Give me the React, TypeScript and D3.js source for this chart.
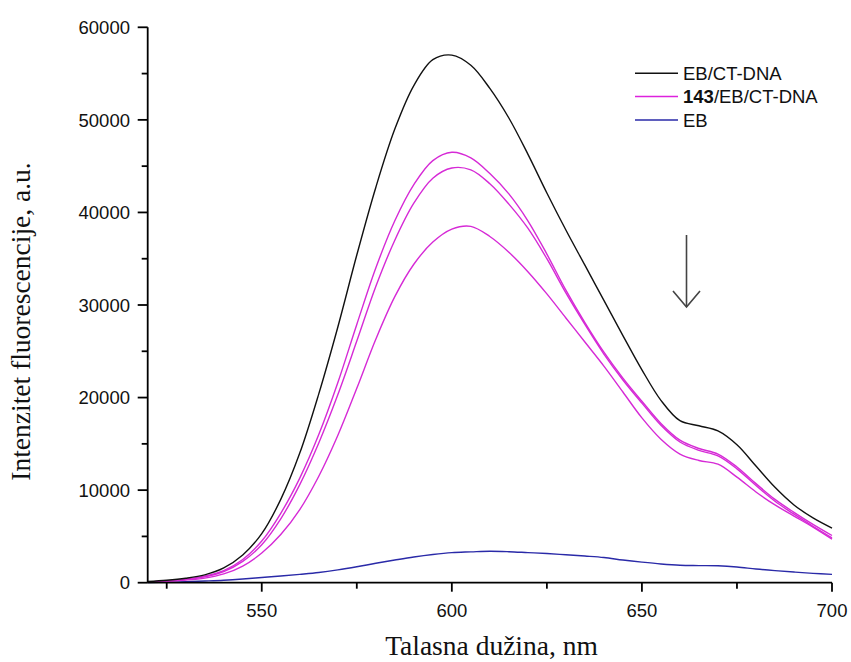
import React from 'react';
import * as d3 from 'd3';

const wavelengths = [520, 525, 530, 535, 540, 545, 550, 555, 560, 565, 570, 575, 580, 585, 590, 595, 600, 605, 610, 615, 620, 625, 630, 635, 640, 645, 650, 655, 660, 665, 670, 675, 680, 685, 690, 695, 700];

const ebDna = [130, 260, 480, 850, 1600, 3000, 5300, 9000, 14000, 20400, 27600, 35400, 42700, 49000, 53700, 56500, 57000, 55900, 53400, 50200, 46300, 42100, 38100, 34300, 30500, 26700, 23000, 19700, 17500, 16950, 16400, 14900, 12600, 10300, 8400, 7000, 5900];

const c143a = [100, 200, 380, 700, 1300, 2500, 4500, 7500, 11300, 16000, 21600, 27900, 34000, 39100, 43000, 45600, 46500, 45900, 44200, 42000, 39100, 35500, 31600, 28100, 24900, 22100, 19600, 17200, 15400, 14500, 13900, 12500, 10700, 9000, 7600, 6300, 5100];

const c143b = [90, 180, 350, 640, 1200, 2300, 4100, 6900, 10600, 15100, 20300, 26100, 32000, 37000, 41000, 43700, 44800, 44600, 43100, 40900, 38300, 35000, 31300, 27900, 24700, 21900, 19400, 17000, 15200, 14300, 13700, 12300, 10500, 8800, 7400, 6100, 4850];

const c143c = [80, 150, 280, 500, 950, 1800, 3200, 5200, 7900, 11500, 15900, 21000, 26300, 30900, 34400, 36800, 38200, 38500, 37400, 35700, 33600, 31200, 28600, 26000, 23400, 20600, 17800, 15500, 13900, 13200, 12800, 11400, 9800, 8400, 7200, 6000, 4700];

const eb = [20, 50, 100, 180, 270, 400, 560, 720, 900, 1100, 1380, 1720, 2100, 2450, 2780, 3050, 3250, 3330, 3400, 3350, 3250, 3150, 3020, 2880, 2720, 2450, 2220, 2020, 1880, 1850, 1830, 1700, 1480, 1300, 1150, 1010, 900];

const xTicks = [550, 600, 650, 700];
const xMinorTicks = [525, 575, 625, 675];
const yTicks = [0, 10000, 20000, 30000, 40000, 50000, 60000];
const yMinorTicks = [5000, 15000, 25000, 35000, 45000, 55000];

const legendItems = [
  { bold: '', label: 'EB/CT-DNA', color: '#111111' },
  { bold: '143', label: '/EB/CT-DNA', color: '#dd22dd' },
  { bold: '', label: 'EB', color: '#2a2aa8' },
];

const series = [
  { values: eb, color: '#2a2aa8' },
  { values: c143c, color: '#d62ad6' },
  { values: c143b, color: '#d62ad6' },
  { values: c143a, color: '#d62ad6' },
  { values: ebDna, color: '#111111' },
];

export default function App() {
  const W = 851;
  const H = 662;
  const x = d3.scaleLinear().domain([520, 700]).range([147.7, 832]);
  const y = d3.scaleLinear().domain([0, 60000]).range([582.7, 27.3]);

  const makeLine = (vals: number[]) =>
    d3
      .line<number>()
      .x((_, i) => x(wavelengths[i]))
      .y((d) => y(d))
      .curve(d3.curveCatmullRom.alpha(0.5))(vals) || '';

  const sans = 'Arial, "Liberation Sans", sans-serif';
  const serif = '"Times New Roman", "Liberation Serif", serif';
  const x0 = x(520);
  const y0 = y(0);

  return (
    <svg width={W} height={H} style={{ position: 'absolute', left: 0, top: 0, background: '#fff' }}>
      <rect x={0} y={0} width={W} height={H} fill="#fff" />
      {series.map((s, i) => (
        <path key={i} d={makeLine(s.values)} fill="none" stroke={s.color} strokeWidth={1.4} />
      ))}

      {/* axes */}
      <line x1={x0} x2={x(700)} y1={y0} y2={y0} stroke="#000" strokeWidth={1.8} />
      <line x1={x0} x2={x0} y1={y0} y2={y(60000)} stroke="#000" strokeWidth={1.8} />

      {xTicks.map((t) => (
        <g key={'xt' + t}>
          <line x1={x(t)} x2={x(t)} y1={y0} y2={y0 + 9} stroke="#000" strokeWidth={1.8} />
          <text x={x(t)} y={617} textAnchor="middle" fontFamily={sans} fontSize={18.5} fill="#111">
            {t}
          </text>
        </g>
      ))}
      {xMinorTicks.map((t) => (
        <line key={'xm' + t} x1={x(t)} x2={x(t)} y1={y0} y2={y0 + 6} stroke="#000" strokeWidth={1.8} />
      ))}
      {yTicks.map((t) => (
        <g key={'yt' + t}>
          <line x1={x0 - 10} x2={x0} y1={y(t)} y2={y(t)} stroke="#000" strokeWidth={1.8} />
          <text x={130} y={y(t)} dy="0.36em" textAnchor="end" fontFamily={sans} fontSize={18.5} fill="#111">
            {t}
          </text>
        </g>
      ))}
      {yMinorTicks.map((t) => (
        <line key={'ym' + t} x1={x0 - 6} x2={x0} y1={y(t)} y2={y(t)} stroke="#000" strokeWidth={1.8} />
      ))}

      {/* axis titles */}
      <text x={491.5} y={655} textAnchor="middle" fontFamily={serif} fontSize={27.5} fill="#111">
        Talasna dužina, nm
      </text>
      <text
        transform="translate(30,321.5) rotate(-90)"
        textAnchor="middle"
        fontFamily={serif}
        fontSize={27.5}
        fill="#111"
      >
        Intenzitet fluorescencije, a.u.
      </text>

      {/* legend */}
      {legendItems.map((it, i) => {
        const ly = 73.3 + i * 23.3;
        return (
          <g key={'lg' + i}>
            <line x1={635} x2={678} y1={ly} y2={ly} stroke={it.color} strokeWidth={1.5} />
            <text x={683} y={ly} dy="0.36em" fontFamily={sans} fontSize={18.5} fill="#111">
              {it.bold ? <tspan fontWeight="bold">{it.bold}</tspan> : null}
              {it.label}
            </text>
          </g>
        );
      })}

      {/* arrow */}
      <line x1={686.5} x2={686.5} y1={235} y2={307} stroke="#444" strokeWidth={1.6} />
      <polyline points="673,291 686.5,307 700,291" fill="none" stroke="#444" strokeWidth={1.6} />
    </svg>
  );
}
